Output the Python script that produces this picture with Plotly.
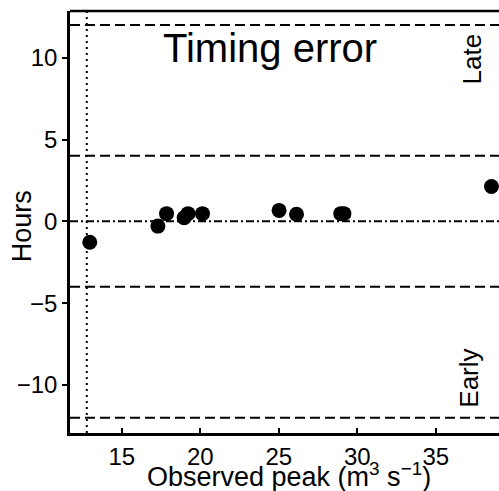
import plotly.graph_objects as go

# Data
obs_peak = [12.96, 17.3, 17.85, 18.97, 19.22, 20.14, 25.02, 26.13, 28.95, 29.15, 38.55]
timing_err = [-1.28, -0.29, 0.47, 0.22, 0.47, 0.47, 0.67, 0.43, 0.47, 0.47, 2.13]

dashed_levels = [12, 4, -4, -12]
zero_level = [0]
min_peak_line = [12.77]

x_ticks = [15, 20, 25, 30, 35]
y_ticks = [-10, -5, 0, 5, 10]

FONT = "Arial, Liberation Sans, sans-serif"

fig = go.Figure()

fig.add_trace(go.Scatter(
    x=obs_peak, y=timing_err, mode="markers",
    marker=dict(color="black", size=15, line=dict(width=0)),
    showlegend=False, cliponaxis=False,
))

shapes = []
for lvl in dashed_levels:
    shapes.append(dict(type="line", xref="paper", yref="y", x0=0, x1=1, y0=lvl, y1=lvl,
                       line=dict(color="black", width=2, dash="10px,5px"), layer="below"))
for lvl in zero_level:
    shapes.append(dict(type="line", xref="paper", yref="y", x0=0, x1=1, y0=lvl, y1=lvl,
                       line=dict(color="black", width=2, dash="8px,3px,2px,3px"), layer="below"))
for xv in min_peak_line:
    shapes.append(dict(type="line", xref="x", yref="paper", x0=xv, x1=xv, y0=0, y1=1,
                       line=dict(color="black", width=2, dash="2px,4px"), layer="below"))
# top frame line
shapes.append(dict(type="line", xref="paper", yref="paper", x0=0, x1=1, y0=1, y1=1,
                   line=dict(color="black", width=2.5)))

annotations = [
    dict(text="Timing error", x=24.44, y=10.6, xref="x", yref="y", showarrow=False,
         font=dict(size=40, family=FONT, color="black")),
    dict(text="Late", x=37.3, y=9.94, xref="x", yref="y", showarrow=False, textangle=-90,
         font=dict(size=26, family=FONT, color="black")),
    dict(text="Early", x=37.1, y=-9.57, xref="x", yref="y", showarrow=False, textangle=-90,
         font=dict(size=26, family=FONT, color="black")),
    dict(text="Hours", x=-0.112, y=0.49, xref="paper", yref="paper", showarrow=False,
         textangle=-90, xanchor="center", yanchor="middle",
         font=dict(size=27, family=FONT, color="black")),
    dict(text="Observed peak (m<sup>3</sup> s<sup>\u22121</sup>)", x=0.51, y=-0.10,
         xref="paper", yref="paper", showarrow=False, xanchor="center", yanchor="middle",
         font=dict(size=27, family=FONT, color="black")),
]

fig.update_layout(
    width=499, height=491,
    margin=dict(l=70, r=0, t=11, b=58, autoexpand=False),
    paper_bgcolor="white", plot_bgcolor="white",
    font=dict(family=FONT, color="black", size=24),
    shapes=shapes, annotations=annotations,
    showlegend=False,
)

fig.update_xaxes(
    range=[11.7, 39.03], tickvals=x_ticks, ticktext=[str(v) for v in x_ticks],
    showgrid=False, zeroline=False, automargin=False,
    showline=True, linecolor="black", linewidth=2.5,
    ticks="inside", ticklen=5, tickwidth=2, tickcolor="black",
    tickfont=dict(size=24, family=FONT, color="black"),
)
fig.update_yaxes(
    range=[-12.93, 12.85], tickvals=y_ticks, ticktext=[str(v).replace("-", "\u2212") for v in y_ticks],
    showgrid=False, zeroline=False, automargin=False,
    showline=True, linecolor="black", linewidth=2.5,
    ticks="outside", ticklen=5, tickwidth=2, tickcolor="black",
    tickfont=dict(size=24, family=FONT, color="black"),
)

fig.write_html(
    "out.html",
    config={"displayModeBar": False},
    post_script="document.body.style.margin='0';document.body.style.padding='0';"
                "document.documentElement.style.overflow='hidden';",
)
